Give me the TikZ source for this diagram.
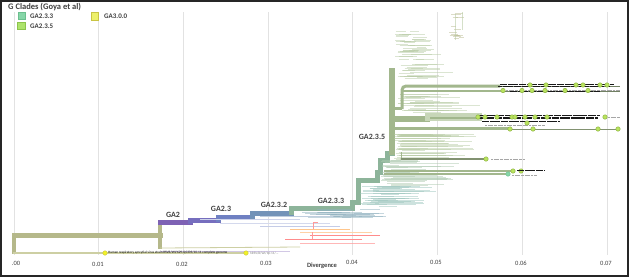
\documentclass[tikz,border=0pt]{standalone}
\usepackage{fontspec}
\setmainfont{Carlito}
\definecolor{olive}{HTML}{B5B88A}
\definecolor{oliveL}{HTML}{CDCFA3}
\definecolor{purp}{HTML}{7E62B4}
\definecolor{pb}{HTML}{766EBE}
\definecolor{blueA}{HTML}{6F80C2}
\definecolor{blueB}{HTML}{7393B8}
\definecolor{grnC}{HTML}{8DB49A}
\definecolor{grnD}{HTML}{A2B78D}
\definecolor{sageL}{HTML}{B9CCA6}
\definecolor{tealL}{HTML}{9DC6BE}
\definecolor{dotg}{HTML}{B9E35F}
\definecolor{dotb}{HTML}{86AE3A}
\definecolor{mint}{HTML}{86D6A8}
\definecolor{mintb}{HTML}{6CBF8E}
\definecolor{lime}{HTML}{ADE36B}
\definecolor{limeb}{HTML}{8CC44C}
\definecolor{yel}{HTML}{EDF06A}
\definecolor{yelb}{HTML}{C9C443}
\definecolor{ydot}{HTML}{F2F226}
\definecolor{txt}{HTML}{404040}
\definecolor{gridc}{HTML}{E2E2E2}
\begin{document}
\begin{tikzpicture}[x=1pt,y=-1pt,
  grid/.style={draw=gridc,line width=0.7pt},
  ticklab/.style={font=\fontsize{6.5}{7}\selectfont,text=txt,inner sep=0pt},
  clade/.style={font=\fontsize{8}{9}\selectfont\bfseries,text=txt,inner sep=0pt},
  legtxt/.style={font=\fontsize{7}{8}\selectfont\bfseries,text=txt,inner sep=0pt,anchor=west},
  trunk/.style={line width=5pt,line cap=rect},
  fan/.style={line width=0.45pt,opacity=0.5},
  gdot/.style={circle,fill=dotg,draw=dotb,line width=0.4pt,inner sep=0pt,minimum size=4.5pt},
  ydotst/.style={circle,fill=ydot,draw=yelb,line width=0.4pt,inner sep=0pt,minimum size=4.5pt},
  clutter/.style={line width=1.3pt,black!90,dash pattern=on 5pt off 0.4pt on 2pt off 0.5pt on 7pt off 0.4pt on 3pt off 0.6pt},
  tinylab/.style={line width=1pt,gray!70,dash pattern=on 2pt off 0.6pt on 3pt off 0.7pt}]
\useasboundingbox (0,0) rectangle (629,277);
\fill[white] (0,0) rectangle (629,277);
% grid
\foreach \i in {0,...,7}{\draw[grid] ({14+84.7*\i},12) -- ({14+84.7*\i},255);}
% axis labels
\node[ticklab] (t0) at (16,263) {.00};
\node[ticklab] (t1) at (98,264) {0.01};
\node[ticklab] (t2) at (182,264) {0.02};
\node[ticklab] (t3) at (266,263) {0.03};
\node[ticklab] (t4) at (352,262) {0.04};
\node[ticklab] (t5) at (436,262) {0.05};
\node[ticklab] (t6) at (521,263) {0.06};
\node[ticklab] (t7) at (606,263) {0.07};
\node[font=\fontsize{6.5}{7}\selectfont\bfseries,text=txt,inner sep=0pt] (div) at (322,266) {Divergence};
% legend
\node[font=\fontsize{8.5}{9}\selectfont\bfseries,text=txt,inner sep=0pt,anchor=west] (legt) at (8,7) {G Clades (Goya et al)};
\node[fill=mint,draw=mintb,minimum size=7.5pt,inner sep=0pt] (sq1) at (21.5,15.5) {};
\node[fill=lime,draw=limeb,minimum size=7.5pt,inner sep=0pt] (sq2) at (21,25.5) {};
\node[fill=yel,draw=yelb,minimum size=7.5pt,inner sep=0pt] (sq3) at (94.5,16) {};
\node[legtxt] (l1) at (30,16.5) {GA2.3.3};
\node[legtxt] (l2) at (30,26.5) {GA2.3.5};
\node[legtxt] (l3) at (104,16.5) {GA3.0.0};
% ---- root
\draw[olive,line width=5pt,line cap=rect] (14,235) -- (160,235);
\draw[olive,line width=4pt] (14,233) -- (14,254);
\draw[olive,line width=4pt] (160,220) -- (160,249);
\draw[oliveL,line width=1.6pt] (13,253) -- (105,253) -- (246,253);
\draw[oliveL,line width=0.8pt] (160,248) -- (300,247);
\draw[purp!35,line width=0.8pt] (160,251) -- (290,251);
\node[ydotst] (yd1) at (105,253) {};
\node[ydotst] (yd2) at (246,253) {};
\node[font=\fontsize{3.4}{4}\selectfont,anchor=west,inner sep=0pt] (hl) at (108,253) {Human respiratory syncytial virus strain RSVB/WI/629-Q0339/10-11 complete genome};
\node[font=\fontsize{3.4}{4}\selectfont,anchor=west,inner sep=0pt,text=gray] (hl2) at (250,253) {hRSV/B/WI/10-11/...};
% ---- lower coloured lines
\draw[blueA!40,line width=0.8pt] (260,226) -- (340,226);
\draw[blueA!30,line width=0.7pt] (220,223) -- (330,223);
\draw[orange!45,line width=0.8pt] (290,229) -- (350,229);
\draw[red!40,line width=0.5pt] (313,229) -- (313,222) -- (318,222);
\draw[orange!35,line width=0.8pt] (300,232) -- (372,232);
\draw[red!45,line width=0.8pt] (310,235) -- (380,235);
\draw[red!40,line width=0.5pt] (312,232) -- (312,239);
\draw[red!45,line width=0.8pt] (285,239) -- (362,239);
\draw[pink!80!red,line width=0.7pt,opacity=0.7] (300,243) -- (375,243);
% ---- trunk
\draw[trunk,purp] (160,222) -- (190,222);
\draw[trunk,pb] (190,221) -- (190,220) -- (218,220);
\draw[trunk,blueA] (218,219) -- (218,217) -- (252,217);
\draw[trunk,blueB] (252,216) -- (252,213) -- (291,213);
\draw[trunk,grnC] (291,212) -- (291,208) -- (352,208) -- (352,202) -- (358,202) -- (358,180) -- (377,180) -- (377,172) -- (380,172) -- (380,160) -- (387,160) -- (387,153) -- (392,153);
\draw[line width=5.5pt,grnD] (392,155) -- (392,68);
% fine lines under trunk
\draw[blueA!35,line width=0.6pt] (200,219) -- (300,219);
\draw[blueB!45,line width=0.6pt] (260,216) -- (340,216);
% ---- fans
\pgfmathsetseed{42}
\foreach \k in {1,...,60}{
  \pgfmathsetmacro\yy{30+48*rnd}
  \pgfmathsetmacro\xs{395+22*rnd}
  \pgfmathsetmacro\xe{\xs+8+(\yy-25)*0.75*rnd}
  \draw[fan,sageL] (\xs,\yy) -- (\xe,\yy);}
\foreach \k in {1,...,14}{
  \pgfmathsetmacro\yy{13+25*rnd}
  \pgfmathsetmacro\xs{448+12*rnd}
  \draw[fan,sageL!80!brown] (\xs,\yy) -- ({\xs+4+6*rnd},\yy);}
\draw[sageL,line width=0.4pt,opacity=0.6] (455,14) -- (455,40) (462,12) -- (462,30);
\foreach \k in {1,...,25}{
  \pgfmathsetmacro\yy{94+18*rnd}
  \pgfmathsetmacro\xs{396+20*rnd}
  \draw[fan,sageL] (\xs,\yy) -- ({\xs+15+55*rnd},\yy);}
\foreach \k in {1,...,45}{
  \pgfmathsetmacro\yy{134+26*rnd}
  \pgfmathsetmacro\xs{394+8*rnd}
  \draw[fan,sageL] (\xs,\yy) -- ({\xs+15+65*rnd},\yy);}
\foreach \k in {1,...,35}{
  \pgfmathsetmacro\yy{160+25*rnd}
  \pgfmathsetmacro\xs{381+12*rnd}
  \draw[fan,sageL!60!tealL] (\xs,\yy) -- ({\xs+15+55*rnd},\yy);}
\foreach \k in {1,...,35}{
  \pgfmathsetmacro\yy{184+22*rnd}
  \pgfmathsetmacro\xs{360+25*rnd}
  \draw[fan,tealL] (\xs,\yy) -- ({\xs+15+45*rnd},\yy);}
\foreach \k in {1,...,22}{
  \pgfmathsetmacro\yy{209+9*rnd}
  \pgfmathsetmacro\xs{300+60*rnd}
  \draw[fan,tealL!70!blueA] (\xs,\yy) -- ({\xs+15+40*rnd},\yy);}
% ---- cluster 1 (y 86/91)
\draw[grnD,line width=3pt] (392,108) -- (402,108);
\draw[grnD,line width=3pt,rounded corners=4pt] (402,109) -- (402,86) -- (500,86);
\draw[grnD,line width=2.2pt] (402,91) -- (505,91);
\draw[grnD!70!black,line width=0.6pt] (500,86) -- (620,86) (505,91) -- (620,91);
\draw[clutter] (500,84.3) -- (614,84.3);
\draw[clutter,dash phase=3pt] (498,86.3) -- (610,86.3);
\draw[tinylab] (506,90.5) -- (620,90.5);
\draw[clutter,line width=0.9pt] (510,91.8) -- (600,91.8);
\foreach \x [count=\n] in {530,546,576,583,600,607}{\node[gdot] (a\n) at (\x,85) {};}
\foreach \x [count=\n] in {503,522,532,545,565,588}{\node[gdot] (b\n) at (\x,90.5) {};}
% ---- cluster 2 (y 117-129)
\draw[grnD,line width=6pt] (392,119) -- (430,119);
\fill[sageL!80] (425,113) rectangle (482,121);
\draw[grnD,line width=2.5pt] (430,118) -- (482,118);
\draw[grnD,line width=3pt] (392,128) -- (510,128);
\draw[grnD!80!black,line width=0.7pt] (510,129) -- (618,129);
\draw[clutter,line width=1.4pt] (478,115.6) -- (600,115.6);
\draw[clutter,line width=1.4pt,dash phase=4pt] (480,117.8) -- (598,117.8);
\draw[clutter,line width=1.2pt] (482,121.5) -- (560,121.5);
\draw[tinylab] (485,125) -- (545,125);
\draw[tinylab] (608,117) -- (620,117);
\foreach \x [count=\n] in {478,485,497,512,515,525,535,547,605}{\node[gdot] (c\n) at (\x,117) {};}
\node[gdot] (c10) at (527,123) {};
\foreach \x [count=\n] in {510,533,598,618}{\node[gdot] (d\n) at (\x,129) {};}
% ---- isolated branches
\draw[grnD,line width=0.6pt] (401,159) -- (401,152);
\draw[grnD!80!black,line width=1.2pt] (401,159) -- (486,159);
\node[gdot] (e1) at (486,159) {};
\draw[tinylab,line width=0.8pt] (491,159) -- (525,159);
\draw[grnD,line width=2pt] (384,171) -- (513,171);
\draw[grnD,line width=1.5pt] (384,174) -- (508,174);
\node[gdot] (e2) at (513,171) {};
\node[gdot] (e3) at (521,171) {};
\node[gdot,fill=mint,draw=mintb] (e4) at (508,174) {};
\draw[clutter,line width=1.2pt] (517,170.5) -- (545,170.5);
\draw[tinylab] (512,175) -- (537,175);
% ---- clade labels
\node[clade] (g1) at (173,215) {GA2};
\node[clade] (g2) at (221,209) {GA2.3};
\node[clade] (g3) at (274,205) {GA2.3.2};
\node[clade] (g4) at (331,201) {GA2.3.3};
\node[clade] (g5) at (372,137) {GA2.3.5};
% frame
\draw[black!85,line width=2pt] (1,1) rectangle (628,276);
\end{tikzpicture}
\end{document}
